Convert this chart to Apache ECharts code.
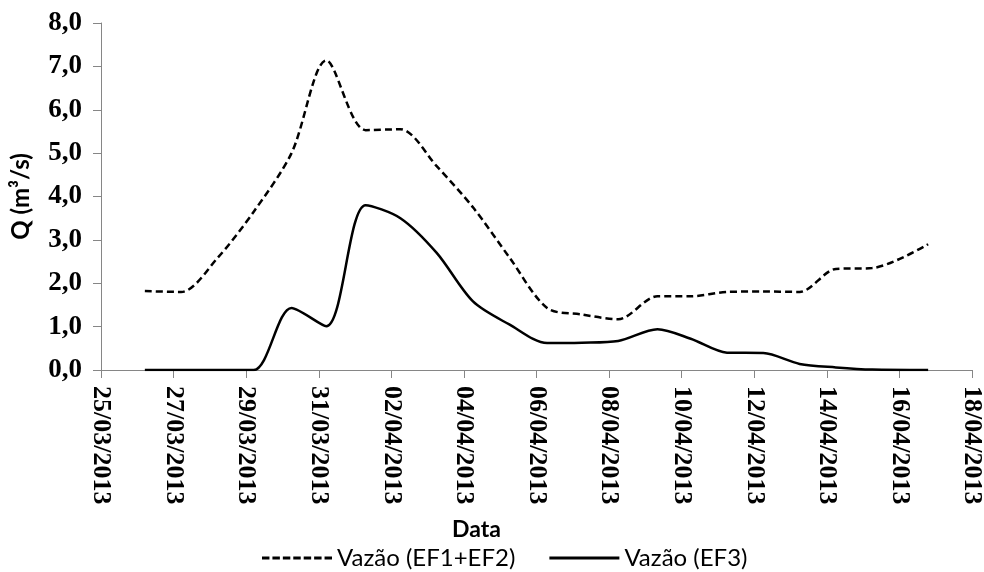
<!DOCTYPE html>
<html>
<head>
<meta charset="utf-8">
<script src="https://cdn.jsdelivr.net/npm/echarts@6/dist/echarts.min.js"></script>
<style>
  html, body { margin: 0; padding: 0; background: #fff; }
  #chart { width: 984px; height: 572px; }
</style>
</head>
<body>
<div id="chart"></div>
<script>
// Measurement times (local date/time of each reading)
const times = [
  '2013-03-26 05:00', '2013-03-27 05:00', '2013-03-28 05:00', '2013-03-29 05:00',
  '2013-03-30 06:00', '2013-03-31 05:00', '2013-04-01 07:00', '2013-04-02 06:00',
  '2013-04-03 06:00', '2013-04-04 06:00', '2013-04-05 06:00', '2013-04-06 07:00',
  '2013-04-07 06:00', '2013-04-08 06:00', '2013-04-09 08:00', '2013-04-10 06:00',
  '2013-04-11 06:00', '2013-04-12 06:00', '2013-04-13 06:00', '2013-04-14 06:00',
  '2013-04-15 06:00', '2013-04-16 19:00'
];
// Discharge (m³/s) at outlets EF1+EF2
const vazaoEF12 = [
  1.82, 1.80, 2.58, 3.65, 5.00, 7.14, 5.53, 5.55, 4.70, 3.75, 2.60, 1.43,
  1.28, 1.17, 1.70, 1.70, 1.80, 1.81, 1.80, 2.33, 2.35, 2.90
];
// Discharge (m³/s) at outlet EF3
const vazaoEF3 = [
  0.00, 0.00, 0.00, 0.00, 1.43, 1.01, 3.80, 3.50, 2.70, 1.58, 1.05, 0.62,
  0.63, 0.67, 0.94, 0.72, 0.40, 0.39, 0.14, 0.06, 0.01, 0.00
];
const seriesNames = ['Vazão (EF1+EF2)', 'Vazão (EF3)'];
const axisStart = '2013-03-25 00:00';
const axisEnd = '2013-04-18 00:00';

const DAY = 86400000;
function toMs(s) {
  const [d, t] = s.split(' ');
  const [y, m, dd] = d.split('-').map(Number);
  const [hh, mm] = t.split(':').map(Number);
  return Date.UTC(y, m - 1, dd, hh, mm);
}
const t0 = toMs(axisStart);
// x positions are expressed in days from the axis start
const toDays = s => (toMs(s) - t0) / DAY;
const pad = n => String(n).padStart(2, '0');
function dayLabel(v) {
  const dt = new Date(t0 + Math.round(v) * DAY);
  return pad(dt.getUTCDate()) + '/' + pad(dt.getUTCMonth() + 1) + '/' + dt.getUTCFullYear();
}

// Legend keys: a row of dashes for the dashed series, a bar for the solid one
let dashPath = 'path://';
for (let k = 0; k < 7; k++) dashPath += 'M' + (k * 10.5) + ',0h7.5v3h-7.5z';
const solidPath = 'path://M0,0h70.5v3h-70.5z';

const axisGray = '#868686';
const chart = echarts.init(document.getElementById('chart'), null, { renderer: 'canvas' });
chart.setOption({
  animation: false,
  backgroundColor: '#ffffff',
  grid: { left: 101, right: 12, top: 23, bottom: 202, containLabel: false, outerBoundsMode: 'none' },
  xAxis: {
    type: 'value',
    min: 0,
    max: toDays(axisEnd),
    interval: 2,
    name: 'Data',
    nameLocation: 'middle',
    nameGap: 148,
    nameTextStyle: {
      fontFamily: 'Lato', fontWeight: 'bold', fontSize: 23, color: '#000',
      padding: [0, 120, 0, 0]
    },
    axisLine: { show: true, lineStyle: { color: axisGray, width: 1 } },
    axisTick: { show: true, length: 8, lineStyle: { color: axisGray } },
    splitLine: { show: false },
    axisLabel: {
      rotate: -90,
      margin: 16,
      fontFamily: 'Liberation Serif',
      fontWeight: 'bold',
      fontSize: 26,
      color: '#000',
      formatter: dayLabel
    }
  },
  yAxis: {
    type: 'value',
    min: 0,
    max: 8,
    interval: 1,
    name: 'Q (m³/s)',
    nameLocation: 'middle',
    nameGap: 68,
    nameTextStyle: { fontFamily: 'Lato', fontWeight: 'bold', fontSize: 24, color: '#000' },
    axisLine: { show: true, lineStyle: { color: axisGray, width: 1 } },
    axisTick: { show: true, length: 8, lineStyle: { color: axisGray } },
    splitLine: { show: false },
    axisLabel: {
      margin: 19,
      fontFamily: 'Liberation Serif',
      fontWeight: 'bold',
      fontSize: 27,
      color: '#000',
      formatter: v => v.toFixed(1).replace('.', ',')
    }
  },
  legend: {
    left: 257,
    top: 541,
    itemWidth: 70,
    itemHeight: 3,
    itemGap: 34,
    textStyle: { fontFamily: 'Lato', fontSize: 24, color: '#000' },
    data: [
      { name: seriesNames[0], icon: dashPath, itemStyle: { color: '#000', opacity: 1 } },
      { name: seriesNames[1], icon: solidPath, itemStyle: { color: '#000', opacity: 1 } }
    ]
  },
  series: [
    {
      name: seriesNames[0],
      type: 'line',
      smooth: 0.3,
      symbol: 'none',
      lineStyle: { color: '#000', width: 2.5, type: [7, 4] },
      itemStyle: { color: '#000' },
      data: times.map((t, i) => [toDays(t), vazaoEF12[i]])
    },
    {
      name: seriesNames[1],
      type: 'line',
      smooth: 0.3,
      symbol: 'none',
      lineStyle: { color: '#000', width: 2.5, type: 'solid' },
      itemStyle: { color: '#000' },
      data: times.map((t, i) => [toDays(t), vazaoEF3[i]])
    }
  ]
});
</script>
</body>
</html>
